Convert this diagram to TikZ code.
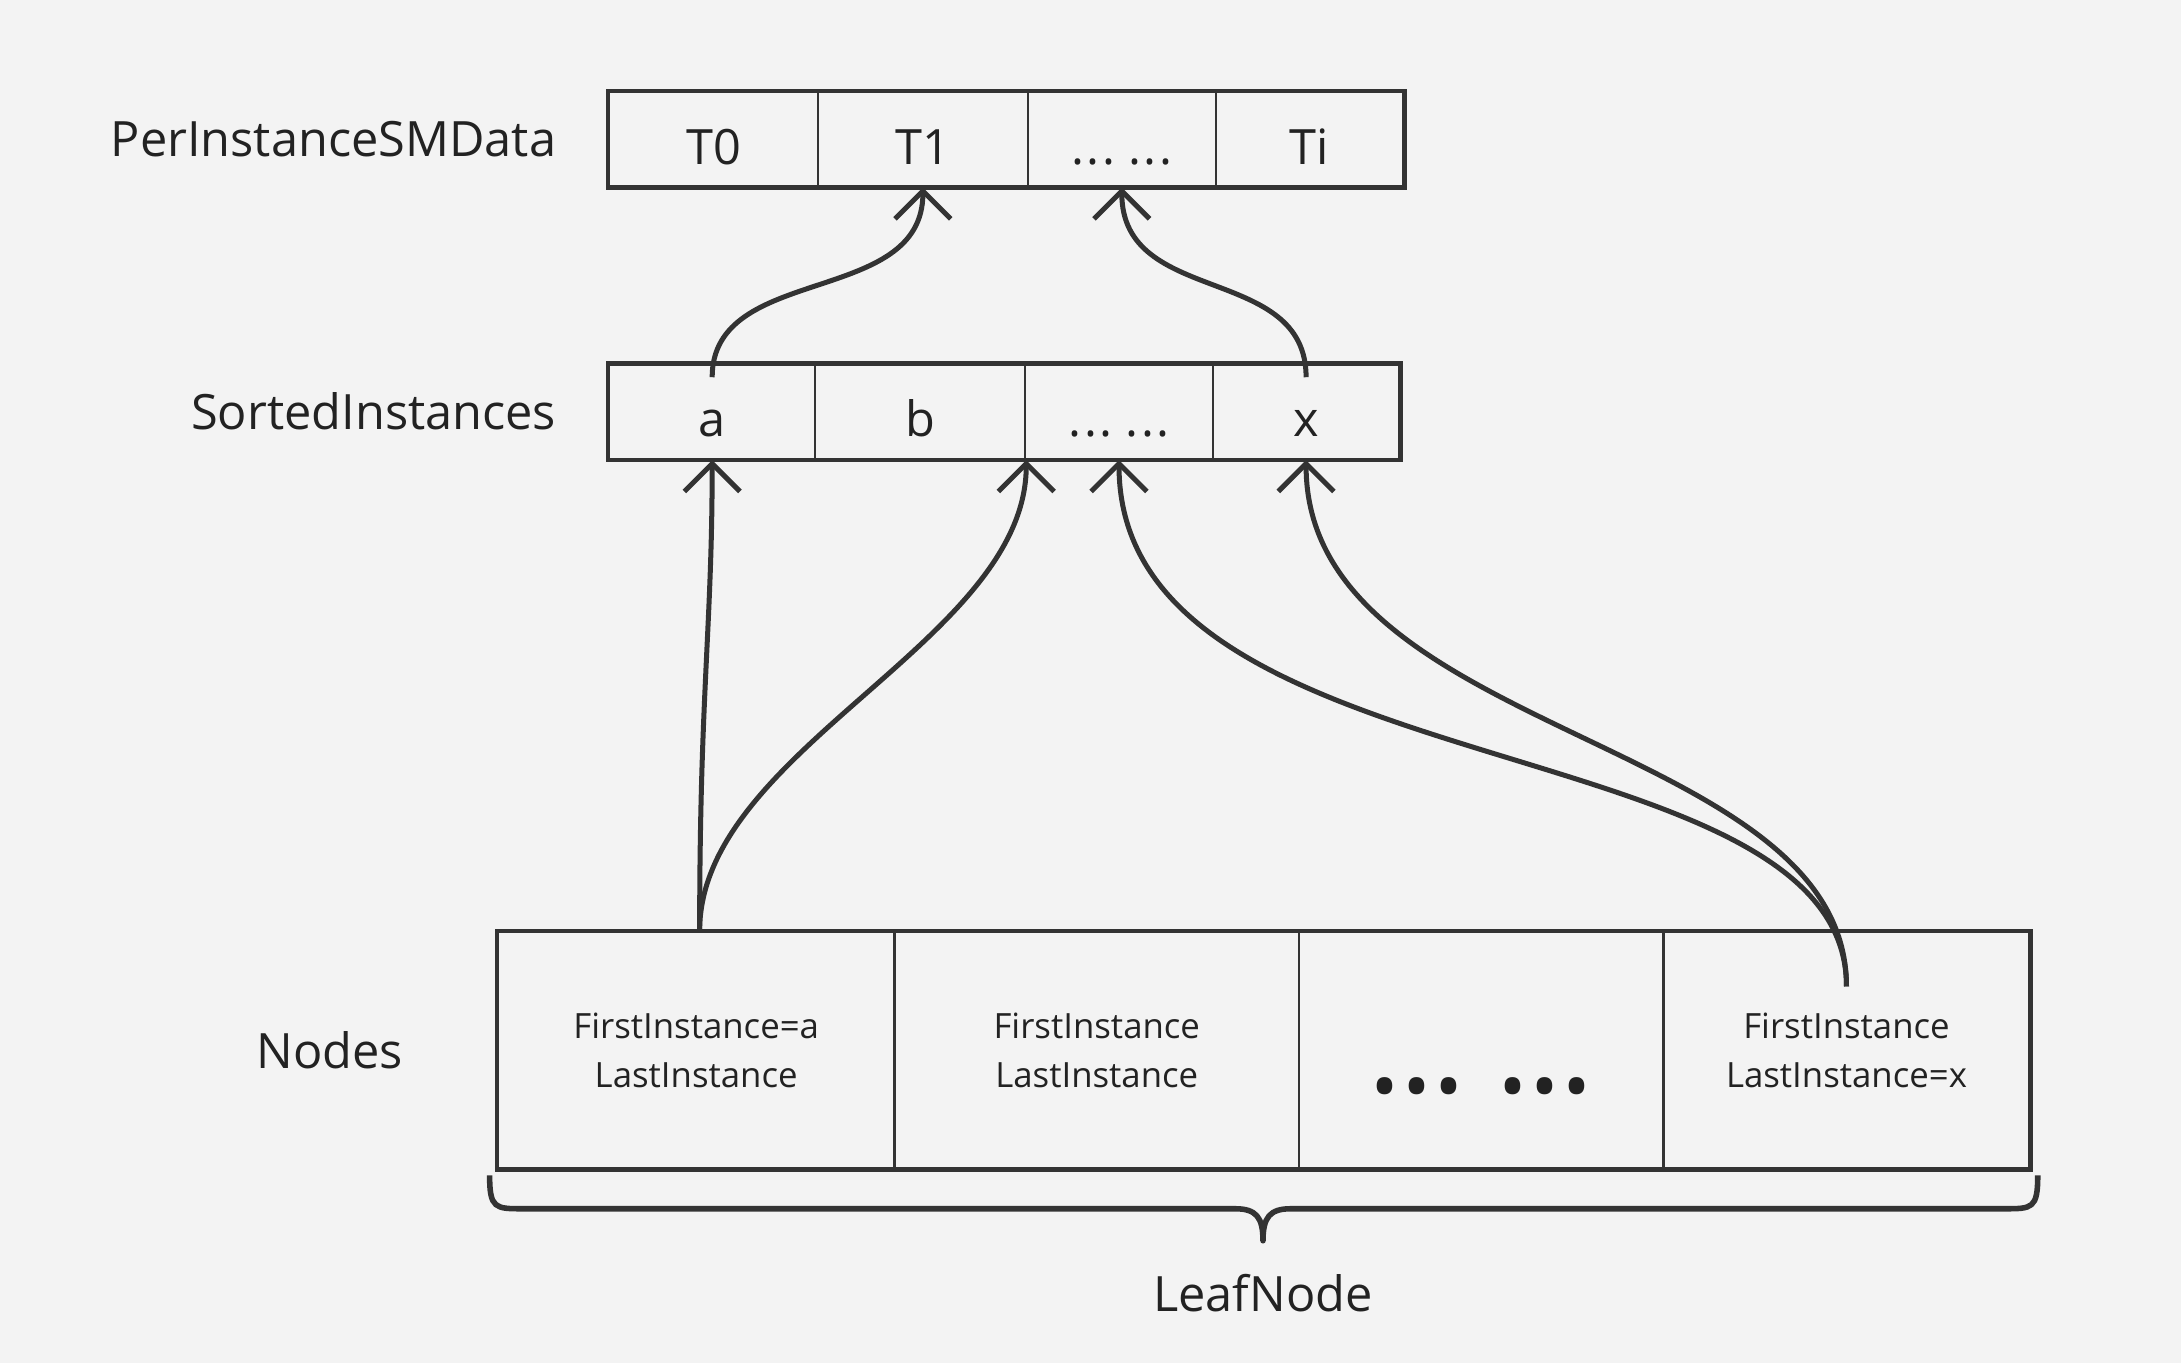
\documentclass[tikz,border=0pt]{standalone}
\usepackage{fontspec}
\setmainfont{Open Sans}
\usetikzlibrary{arrows.meta}
\definecolor{bg}{HTML}{F3F3F3}
\definecolor{ink}{HTML}{333333}
\definecolor{txt}{HTML}{222222}
\newcommand{\mydots}{.\kern2pt.\kern2pt.\kern0pt\ .\kern2pt.\kern2pt.}
\newcommand{\bigdot}{\makebox[23pt]{•}}
\begin{document}
\begin{tikzpicture}[x=1pt,y=-1pt,
  cell/.style={draw=ink,line width=1.6pt,minimum height=68pt,inner sep=0pt,text=txt,text height=36pt,text depth=0pt,font=\fontsize{35}{40}\selectfont},
  ncell/.style={draw=ink,line width=1.6pt,minimum height=170pt,inner sep=0pt,text=txt,align=center,font=\fontsize{25}{35}\selectfont},
  rowlabel/.style={text=txt,font=\fontsize{35}{40}\selectfont,inner sep=0pt},
  outer/.style={draw=ink,line width=3pt},
  conn/.style={draw=ink,line width=3.6pt,-{Straight Barb[length=20pt,width=40pt,line width=3.6pt]}},
  plain/.style={draw=ink,line width=3.6pt}]
\fill[bg] (0,0) rectangle (1568,980);
\useasboundingbox (0,0) rectangle (1568,980);
% top row
\node[cell,minimum width=150pt] (t0) at (513,100) {T0};
\node[cell,minimum width=151pt] (t1) at (663.5,100) {T1};
\node[cell,minimum width=135pt] (td) at (806.5,100) {\mydots};
\node[cell,minimum width=135pt] (ti) at (941.5,100) {Ti};
\draw[outer] (t0.north west) rectangle (ti.south east);
% sorted row
\node[cell,minimum width=148pt] (sa) at (512,296) {a};
\node[cell,minimum width=151pt] (sb) at (661.5,296) {b};
\node[cell,minimum width=135pt] (sd) at (804.5,296) {\mydots};
\node[cell,minimum width=134pt] (sx) at (939,296) {x};
\draw[outer] (sa.north west) rectangle (sx.south east);
% nodes row
\node[ncell,minimum width=285pt] (n1) at (500.5,755) {FirstInstance=a\\LastInstance};
\node[ncell,minimum width=291pt] (n2) at (788.5,755) {FirstInstance\\LastInstance};
\node[ncell,minimum width=262pt] (n3) at (1065,755) {};
\node[text=txt,inner sep=0pt,font=\fontsize{40}{40}\selectfont\bfseries] (n3t) at (1065,785) {\bigdot\bigdot\bigdot\hspace{23pt}\bigdot\bigdot\bigdot};
\node[ncell,minimum width=263pt] (n4) at (1327.5,755) {FirstInstance\\LastInstance=x};
\draw[outer] (n1.north west) rectangle (n4.south east);
% row labels
\node[rowlabel,anchor=east] (lp) at (400,100) {PerInstanceSMData};
\node[rowlabel,anchor=east] (ls) at (400,296) {SortedInstances};
\node[rowlabel] (ln) at (237,755) {Nodes};
\node[rowlabel] (ll) at (908,930) {LeafNode};
% connectors sorted -> per instance
\draw[conn] ([yshift=-10pt]sa.north) .. controls +(0,-82) and +(0,86) .. (t1.south);
\draw[conn] ([yshift=-10pt]sx.north) .. controls +(0,-82) and +(0,86) .. (td.south);
% connectors nodes -> sorted
\coordinate (s1) at ([xshift=2.5pt]n1.north);
\coordinate (s4) at ([yshift=-40pt]n4.north);
\draw[conn] (s1) .. controls +(0,-170) and +(0,120) .. (sa.south);
\draw[conn] (s1) .. controls +(0,-130) and +(0,130) .. (sb.south east);
\draw[conn] (s4) .. controls +(0,-190) and +(0,240) .. (sd.south);
\draw[conn] (s4) .. controls +(0,-180) and +(0,200) .. (sx.south);
% brace
\draw[plain,line width=4pt,line join=round] (352,845) .. controls (352,869) and (356,869) .. (376,869) -- (888,869) .. controls (903,869) and (908,875) .. (908,892) .. controls (908,875) and (913,869) .. (928,869) -- (1441,869) .. controls (1461,869) and (1465,869) .. (1465,845);
\end{tikzpicture}
\end{document}
